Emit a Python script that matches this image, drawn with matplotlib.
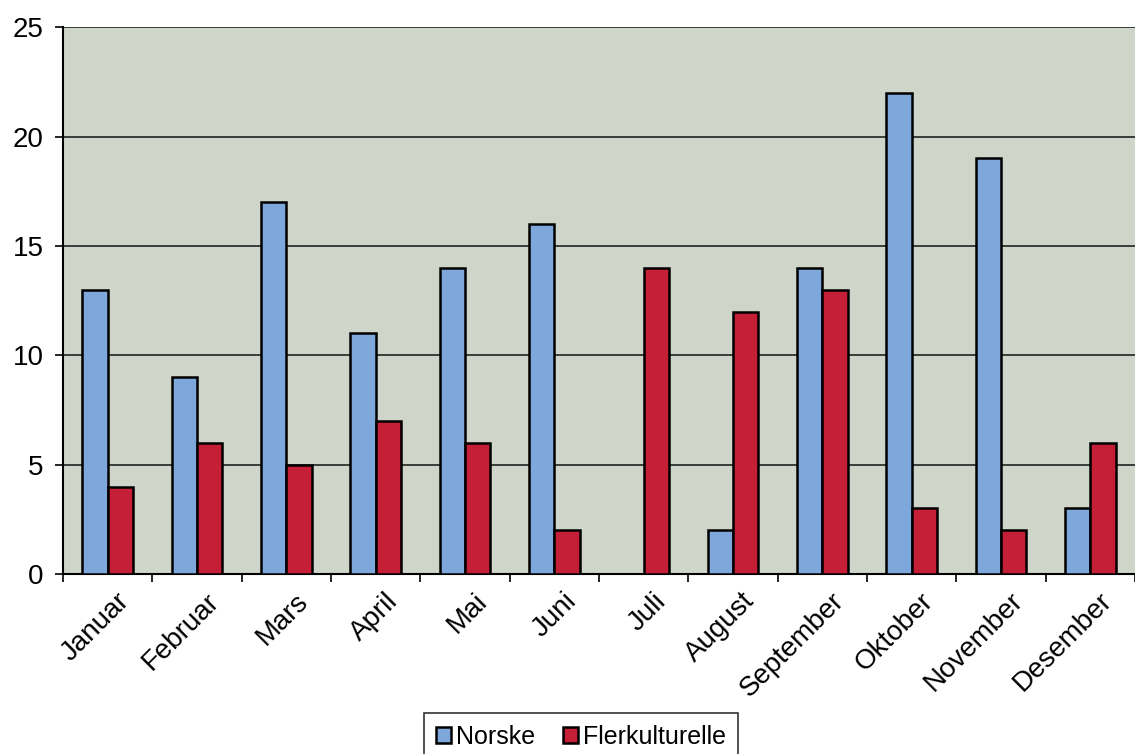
import numpy as np
import matplotlib.pyplot as plt

plt.rcParams['font.family'] = ['Liberation Sans', 'DejaVu Sans']

# data
months = ["Januar", "Februar", "Mars", "April", "Mai", "Juni", "Juli",
          "August", "September", "Oktober", "November", "Desember"]
norske = [13, 9, 17, 11, 14, 16, 0, 2, 14, 22, 19, 3]
flerkulturelle = [4, 6, 5, 7, 6, 2, 14, 12, 13, 3, 2, 6]

fig = plt.figure(figsize=(11.35, 7.54), dpi=100)
ax = fig.add_axes([0.0555, 0.2387, 0.9445, 0.7253])
ax.set_facecolor("#d0d5c9")

x = np.arange(len(months))
w = 0.285
ax.bar(x - w / 2, norske, w, color="#7ea7dc", edgecolor="black", linewidth=1.8,
       label="Norske", zorder=3)
ax.bar(x + w / 2, flerkulturelle, w, color="#c51f38", edgecolor="black", linewidth=1.8,
       label="Flerkulturelle", zorder=3)

ax.set_xlim(-0.5, len(months) - 0.5)
ax.set_ylim(0, 25)
ax.set_yticks([0, 5, 10, 15, 20, 25])
ax.yaxis.grid(True, color="#222222", linewidth=1.2, zorder=1)

# category boundary ticks on x axis
ax.set_xticks(np.arange(len(months) + 1) - 0.5)
ax.set_xticklabels([])
ax.set_xticks(x + 0.1, minor=True)
ax.set_xticklabels(months, minor=True, rotation=45, ha="right",
                   rotation_mode="anchor", fontsize=20)
ax.tick_params(axis="x", which="minor", length=0, pad=10)
ax.tick_params(axis="x", which="major", length=6, width=1.2, direction="out")
ax.tick_params(axis="y", length=6, width=1.2, labelsize=20, pad=8)

for side in ["top", "right"]:
    ax.spines[side].set_visible(False)
ax.spines["left"].set_linewidth(1.5)
ax.spines["bottom"].set_linewidth(1.5)

leg = fig.legend(loc="upper center", bbox_to_anchor=(0.512, 0.055), ncol=2,
                 fontsize=18, frameon=True, fancybox=False, edgecolor="black",
                 handlelength=0.6, handleheight=0.6, handletextpad=0.2,
                 columnspacing=1.1, borderpad=0.5, borderaxespad=0)
leg.get_frame().set_linewidth(1.2)

fig.savefig("out.png", dpi=100)
